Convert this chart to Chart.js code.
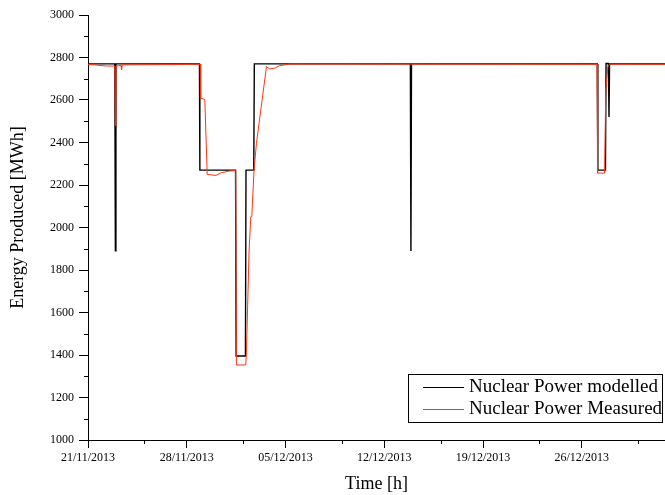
<!DOCTYPE html>
<html>
<head>
<meta charset="utf-8">
<script src="https://cdn.jsdelivr.net/npm/chart.js@4.4.0/dist/chart.umd.min.js"></script>
<style>
  html, body { margin: 0; padding: 0; background: #fff; }
</style>
</head>
<body>
<canvas id="energyChart" width="665" height="495"></canvas>
<script>
// x values are days since 21/11/2013 00:00
const tickDays = [0, 7, 14, 21, 28, 35];
const tickLabels = ["21/11/2013", "28/11/2013", "05/12/2013", "12/12/2013", "19/12/2013", "26/12/2013"];
const minorTickDays = [4, 11, 18, 25, 32, 39];
const minorTickMWh = [1100, 1300, 1500, 1700, 1900, 2100, 2300, 2500, 2700, 2900];

// Nuclear Power modelled
const modelledDays = [0, 1.90, 1.94, 1.98, 7.90, 7.93, 10.46, 10.50, 11.16, 11.20, 11.75, 11.79,
  22.85, 22.89, 22.93, 36.10, 36.14, 36.68, 36.72, 36.89, 36.93, 36.97, 40.9];
const modelledMWh = [2770, 2770, 1890, 2770, 2770, 2270, 2270, 1395, 1395, 2270, 2270, 2770,
  2770, 1890, 2770, 2770, 2270, 2270, 2772, 2772, 2520, 2770, 2770];

// Nuclear Power Measured
const measuredDays = [0, 1.3, 1.90, 1.94, 1.98, 2.34, 2.38, 2.42, 7.95, 7.99, 8.28, 8.45, 9.06, 9.46,
  10.05, 10.47, 10.52, 11.18, 11.23, 11.42, 11.54, 11.61, 11.77, 11.94, 12.65, 12.89, 13.24, 13.60,
  14.3, 36.08, 36.12, 36.62, 36.70, 36.85, 36.96, 40.9];
const measuredMWh = [2768, 2760, 2760, 2480, 2760, 2762, 2742, 2765, 2768, 2608, 2603, 2250, 2245, 2258,
  2266, 2268, 1353, 1353, 1410, 1894, 2051, 2051, 2270, 2396, 2757, 2746, 2750, 2762,
  2769, 2768, 2256, 2256, 2640, 2757, 2768, 2768];

const serif = "'Liberation Serif', 'Times New Roman', serif";

const toPoints = (xs, ys) => xs.map((x, i) => ({ x: x, y: ys[i] }));

// minor ticks, framed legend and the y title (drawn a bit above centre as in the original)
const extrasPlugin = {
  id: "extras",
  afterDraw(chart) {
    const { ctx, chartArea, scales } = chart;
    ctx.save();
    ctx.strokeStyle = "#000";
    ctx.lineWidth = 1;
    ctx.beginPath();
    minorTickMWh.forEach((v) => {
      const y = Math.round(scales.y.getPixelForValue(v)) + 0.5;
      ctx.moveTo(chartArea.left - 4, y);
      ctx.lineTo(chartArea.left, y);
    });
    minorTickDays.forEach((d) => {
      const x = Math.round(scales.x.getPixelForValue(d)) + 0.5;
      ctx.moveTo(x, chartArea.bottom);
      ctx.lineTo(x, chartArea.bottom + 4);
    });
    ctx.stroke();

    // legend box
    const right = chartArea.right - 3;
    const bottom = chartArea.bottom - 18;
    const left = right - 254;
    const top = bottom - 48;
    ctx.fillStyle = "#fff";
    ctx.fillRect(left, top, right - left, bottom - top);
    ctx.strokeRect(left + 0.5, top + 0.5, right - left, bottom - top);
    ctx.font = "19px " + serif;
    ctx.textBaseline = "middle";
    chart.data.datasets.forEach((ds, i) => {
      const y = top + 13.5 + i * 22;
      ctx.strokeStyle = ds.borderColor;
      ctx.lineWidth = 1;
      ctx.beginPath();
      ctx.moveTo(left + 15, y);
      ctx.lineTo(left + 56, y);
      ctx.stroke();
      ctx.fillStyle = "#000";
      ctx.fillText(ds.label, left + 61, y);
    });

    // y axis title
    ctx.translate(18, scales.y.getPixelForValue(2047));
    ctx.rotate(-Math.PI / 2);
    ctx.textAlign = "center";
    ctx.font = "18px " + serif;
    ctx.fillText("Energy Produced [MWh]", 0, 0);
    ctx.restore();
  }
};

new Chart(document.getElementById("energyChart"), {
  type: "line",
  data: {
    datasets: [
      {
        label: "Nuclear Power modelled",
        data: toPoints(modelledDays, modelledMWh),
        borderColor: "#000000",
        borderWidth: 1.4,
        pointRadius: 0,
        tension: 0,
        order: 1
      },
      {
        label: "Nuclear Power Measured",
        data: toPoints(measuredDays, measuredMWh),
        borderColor: "#ff3311",
        borderWidth: 1,
        pointRadius: 0,
        tension: 0,
        order: 0
      }
    ]
  },
  options: {
    responsive: false,
    animation: false,
    devicePixelRatio: 1,
    layout: { padding: { top: 15, right: 0, bottom: 0, left: 0 } },
    plugins: { legend: { display: false }, tooltip: { enabled: false } },
    scales: {
      x: {
        type: "linear",
        min: 0,
        max: 40.9,
        afterFit: (s) => { s.height = 55; },
        afterBuildTicks: (s) => { s.ticks = tickDays.map((v) => ({ value: v })); },
        ticks: {
          callback: (v, i) => tickLabels[i],
          autoSkip: false,
          maxRotation: 0,
          padding: 3,
          color: "#000",
          font: { family: serif, size: 12 }
        },
        grid: { drawOnChartArea: false, drawTicks: true, tickLength: 8, tickColor: "#000", tickWidth: 1 },
        border: { display: true, color: "#000", width: 1 },
        title: {
          display: true,
          text: "Time [h]",
          color: "#000",
          font: { family: serif, size: 18 },
          padding: { top: 0, bottom: 0 }
        }
      },
      y: {
        min: 1000,
        max: 3000,
        afterFit: (s) => { s.width = 88; },
        ticks: {
          stepSize: 200,
          padding: 5,
          color: "#000",
          font: { family: serif, size: 12 },
          callback: (v) => String(v)
        },
        grid: { drawOnChartArea: false, drawTicks: true, tickLength: 9, tickColor: "#000", tickWidth: 1 },
        border: { display: true, color: "#000", width: 1 }
      }
    }
  },
  plugins: [extrasPlugin]
});
</script>
</body>
</html>
